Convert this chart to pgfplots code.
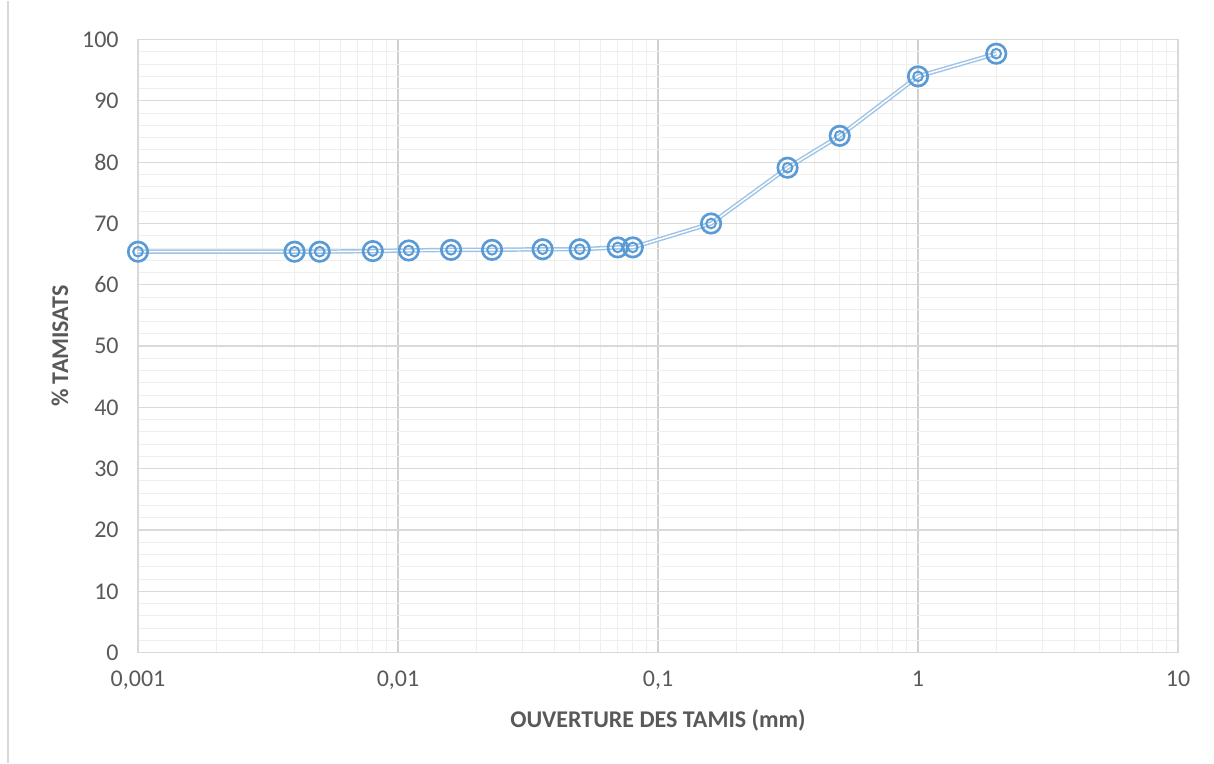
\documentclass[border=0pt]{standalone}
\usepackage{fontspec}
\setmainfont{Carlito}
\usepackage{pgfplots}
\pgfplotsset{compat=1.18}
\usepackage{pgfplotstable}
\definecolor{tick}{HTML}{595959}
\definecolor{majgrid}{HTML}{D9D9D9}
\definecolor{mingrid}{HTML}{EFEFEF}
\definecolor{vmaj}{HTML}{D0D0D0}
\definecolor{mk}{HTML}{5B9BD5}
\definecolor{ln}{HTML}{9DC3E6}
\pgfplotstableread{
x y
0.001 65.4
0.004 65.4
0.005 65.4
0.008 65.5
0.011 65.6
0.016 65.7
0.023 65.7
0.036 65.8
0.05 65.8
0.07 66.1
0.08 66.1
0.16 70.0
0.315 79.1
0.5 84.3
1 94.0
2 97.7
}\data
\begin{document}
\begin{tikzpicture}
\begin{semilogxaxis}[
  scale only axis, width=780pt, height=459.75pt,
  xmin=0.001, xmax=10, ymin=0, ymax=100,
  xtick={0.001,0.01,0.1,1,10},
  xticklabels={{0,001},{0,01},{0,1},{1},{10}},
  minor xtick={0.002,0.003,0.004,0.005,0.006,0.007,0.008,0.009,
               0.02,0.03,0.04,0.05,0.06,0.07,0.08,0.09,
               0.2,0.3,0.4,0.5,0.6,0.7,0.8,0.9,
               2,3,4,5,6,7,8,9},
  ytick={0,10,...,100},
  minor ytick={0,2,...,100},
  grid=both,
  major x grid style={vmaj, line width=0.9pt},
  major y grid style={majgrid, line width=0.9pt},
  minor x grid style={mingrid, line width=0.75pt},
  minor y grid style={mingrid, line width=0.75pt},
  major tick length=0pt, minor tick length=0pt,
  axis line style={majgrid, line width=0.9pt},
  /pgf/number format/assume math mode=true,
  ticklabel style={font=\fontsize{18}{21}\selectfont, text=tick},
  yticklabel style={xshift=-11pt},
  xticklabel style={yshift=-10pt},
  xlabel={OUVERTURE DES TAMIS (mm)},
  ylabel={\% TAMISATS},
  label style={font=\bfseries\fontsize{18}{21}\selectfont, text=tick},
  xlabel style={at={(axis description cs:0.5,-0.111)}, anchor=center},
  ylabel style={at={(axis description cs:-0.075,0.5)}, anchor=center},
]
\addplot[ln, line width=1.1pt, double=white, double distance=1.1pt, no marks] table {\data};
\addplot[only marks, mark=o, mark size=7.3pt, mark options={draw=mk, fill=white, line width=2pt}] table {\data};
\addplot[only marks, mark=o, mark size=3.6pt, mark options={draw=mk, fill=white, line width=1.5pt}] table {\data};
\end{semilogxaxis}
\path ([shift={(-103.5pt,-82.5pt)}]current axis.south west) rectangle ([shift={(807pt,489pt)}]current axis.south west);
\draw[majgrid, line width=0.9pt] ([shift={(-97.5pt,-82.5pt)}]current axis.south west) -- ([shift={(-97.5pt,489pt)}]current axis.south west);
\end{tikzpicture}
\end{document}
